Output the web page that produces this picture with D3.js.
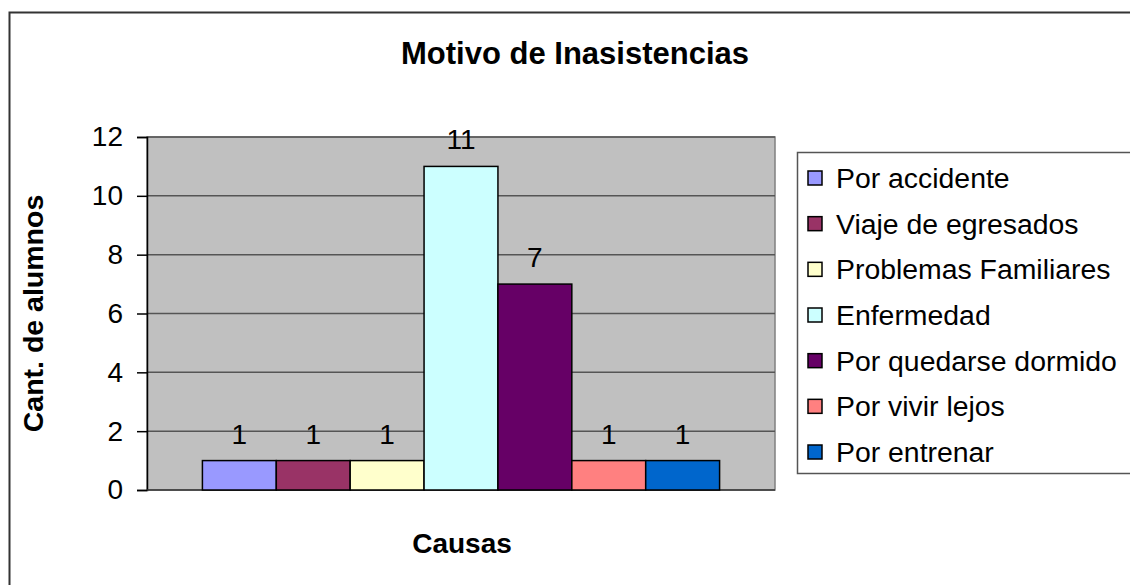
<!DOCTYPE html>
<html>
<head>
<meta charset="utf-8">
<script src="https://cdn.jsdelivr.net/npm/d3@7"></script>
<style>
  body { margin: 0; background: #fff; }
  svg { display: block; font-family: "Liberation Sans", Arial, sans-serif; }
</style>
</head>
<body>
<svg id="chart"></svg>
<script>
// data
var causas = ["Por accidente", "Viaje de egresados", "Problemas Familiares", "Enfermedad",
              "Por quedarse dormido", "Por vivir lejos", "Por entrenar"];
var alumnos = [1, 1, 1, 11, 7, 1, 1];
var colores = ["#9999FF", "#993366", "#FFFFCC", "#CCFFFF", "#660066", "#FF8080", "#0066CC"];
var yTicks = [0, 2, 4, 6, 8, 10, 12];

var data = causas.map(function(c, i) { return {causa: c, valor: alumnos[i], color: colores[i]}; });

var svg = d3.select("#chart")
  .attr("width", 1130)
  .attr("height", 585);

// outer chart border (runs off the right and bottom)
svg.append("rect")
  .attr("x", 9.5).attr("y", 12.5)
  .attr("width", 1140).attr("height", 600)
  .attr("fill", "#fff")
  .attr("stroke", "#333").attr("stroke-width", 2);

var plot = {left: 147, right: 775, top: 137, bottom: 490};

// one category, excel style gap width 150%
var barW = (plot.right - plot.left) / (causas.length + 1.5);
var x = d3.scaleBand()
  .domain(causas)
  .range([plot.left + barW * 0.75, plot.right - barW * 0.75])
  .padding(0);

var y = d3.scaleLinear().domain([0, 12]).range([plot.bottom, plot.top]);

// plot background
svg.append("rect")
  .attr("x", plot.left).attr("y", plot.top)
  .attr("width", plot.right - plot.left).attr("height", plot.bottom - plot.top)
  .attr("fill", "#C0C0C0")
  .attr("stroke", "#808080").attr("stroke-width", 1.5);

// gridlines
svg.append("g").selectAll("line")
  .data(yTicks.filter(function(d) { return d > 0; }))
  .enter().append("line")
  .attr("x1", plot.left).attr("x2", plot.right)
  .attr("y1", function(d) { return y(d); })
  .attr("y2", function(d) { return y(d); })
  .attr("stroke", "#555").attr("stroke-width", 1.5);

// y axis
var yAxis = svg.append("g")
  .attr("transform", "translate(" + plot.left + ",0)")
  .call(d3.axisLeft(y).tickValues(yTicks).tickSize(10).tickPadding(14));
yAxis.select(".domain").attr("stroke", "#000").attr("stroke-width", 1.5);
yAxis.selectAll(".tick line").attr("stroke", "#000").attr("stroke-width", 1.5);
yAxis.selectAll(".tick text")
  .attr("font-size", 28)
  .attr("font-family", "Liberation Sans, Arial, sans-serif")
  .attr("fill", "#000");

// bottom axis line
svg.append("line")
  .attr("x1", plot.left).attr("x2", plot.right)
  .attr("y1", y(0)).attr("y2", y(0))
  .attr("stroke", "#333").attr("stroke-width", 1.5);

// bars
svg.append("g").selectAll("rect")
  .data(data)
  .enter().append("rect")
  .attr("x", function(d) { return x(d.causa); })
  .attr("y", function(d) { return y(d.valor); })
  .attr("width", x.bandwidth())
  .attr("height", function(d) { return y(0) - y(d.valor); })
  .attr("fill", function(d) { return d.color; })
  .attr("stroke", "#000").attr("stroke-width", 1.5);

// value labels
svg.append("g").selectAll("text")
  .data(data)
  .enter().append("text")
  .attr("x", function(d) { return x(d.causa) + x.bandwidth() / 2; })
  .attr("y", function(d) { return y(d.valor) - 17; })
  .attr("text-anchor", "middle")
  .attr("font-size", 28)
  .text(function(d) { return d.valor; });

// titles
svg.append("text")
  .attr("x", 575).attr("y", 64)
  .attr("text-anchor", "middle")
  .attr("font-size", 31).attr("font-weight", "bold")
  .text("Motivo de Inasistencias");

svg.append("text")
  .attr("x", 462).attr("y", 553)
  .attr("text-anchor", "middle")
  .attr("font-size", 28).attr("font-weight", "bold")
  .text("Causas");

svg.append("text")
  .attr("transform", "translate(43," + ((plot.top + plot.bottom) / 2) + ") rotate(-90)")
  .attr("text-anchor", "middle")
  .attr("font-size", 28.5).attr("font-weight", "bold")
  .text("Cant. de alumnos");

// legend
var legend = svg.append("g");
legend.append("rect")
  .attr("x", 797.5).attr("y", 152.5)
  .attr("width", 400).attr("height", 321)
  .attr("fill", "#fff")
  .attr("stroke", "#555").attr("stroke-width", 1.5);

var rowY = d3.scalePoint().domain(causas).range([178, 452]);

var item = legend.selectAll(".item")
  .data(data)
  .enter().append("g")
  .attr("class", "item")
  .attr("transform", function(d) { return "translate(0," + rowY(d.causa) + ")"; });
item.append("rect")
  .attr("x", 808).attr("y", -7)
  .attr("width", 14).attr("height", 14)
  .attr("fill", function(d) { return d.color; })
  .attr("stroke", "#000").attr("stroke-width", 1.5);
item.append("text")
  .attr("x", 836).attr("y", 10)
  .attr("font-size", 28.4)
  .text(function(d) { return d.causa; });
</script>
</body>
</html>
